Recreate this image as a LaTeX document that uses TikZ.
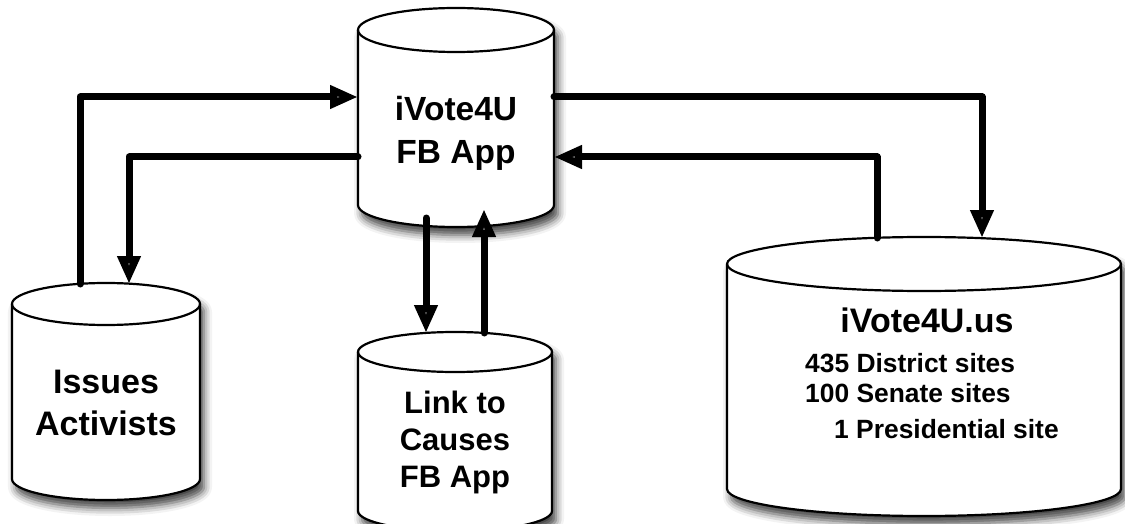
\documentclass[tikz,border=0pt]{standalone}
\usepackage{fontspec}
\setmainfont{Liberation Sans}
\usetikzlibrary{arrows.meta,shadows.blur}

\begin{document}
\begin{tikzpicture}[x=1pt,y=-1pt,
  flow/.style={line width=7pt,line cap=round,line join=round,-{Triangle[length=28pt,width=22pt]}},
  cyl/.style={draw,line width=2.2pt,fill=white,blur shadow={shadow xshift=4pt,shadow yshift=-8pt,shadow blur radius=8pt,shadow opacity=75}},
  body/.style={inner sep=0pt,outer sep=0pt},
  lbl/.style={align=center,inner sep=0pt}]
  \useasboundingbox (0,0) rectangle (1125,524);

  % cylinders: name/centre x/top y/bottom y/x radius/y radius
  \foreach \nm/\cx/\ty/\by/\rx/\ry in {app/456/30/205/98/22, iss/106/304/479/94/21, lnk/455/352/511/97/20, web/924/264/489/197/27} {
    \draw[cyl] (\cx-\rx,\ty) -- (\cx-\rx,\by)
      arc[start angle=180,end angle=360,x radius=\rx*1pt,y radius=\ry*1pt]
      -- (\cx+\rx,\ty)
      arc[start angle=0,end angle=180,x radius=\rx*1pt,y radius=\ry*1pt] -- cycle;
    \draw[line width=2.2pt] (\cx-\rx,\ty) arc[start angle=180,end angle=360,x radius=\rx*1pt,y radius=\ry*1pt];
    \node[body,minimum width={2*\rx*1pt},minimum height={(\by-\ty)*1pt}] (\nm) at (\cx,{(\ty+\by)/2}) {};
  }

  % labels
  \node[lbl,font=\bfseries\fontsize{33.5}{43}\selectfont] (app-txt) at (456,133) {iVote4U\\FB App};
  \node[lbl,font=\bfseries\fontsize{34}{42}\selectfont] (iss-txt) at (106,403) {Issues\\Activists};
  \node[lbl,font=\bfseries\fontsize{31}{37}\selectfont] (lnk-txt) at (455,442) {Link to\\Causes\\FB App};
  \node[lbl,anchor=base,font=\bfseries\fontsize{34}{40}\selectfont] (web-txt) at (927,332) {iVote4U.us};
  \node[lbl,anchor=base west,font=\bfseries\fontsize{26.4}{32}\selectfont] (web-dist) at (805,372) {435 District sites};
  \node[lbl,anchor=base west,font=\bfseries\fontsize{26.4}{32}\selectfont] (web-sen) at (805,402) {100 Senate sites};
  \node[lbl,anchor=base west,font=\bfseries\fontsize{26.4}{32}\selectfont] (web-pres) at (834,438) {1 Presidential site};

  % ports
  \coordinate (app-w1) at ([yshift=20.5pt]app.west);
  \coordinate (app-w2) at ([yshift=-39.5pt]app.west);
  \coordinate (app-e1) at ([yshift=20.5pt]app.east);
  \coordinate (app-e2) at ([yshift=-39.5pt]app.east);
  \coordinate (app-s1) at ([xshift=-30pt,yshift=-13pt]app.south);
  \coordinate (app-s2) at ([xshift=28pt,yshift=-4pt]app.south);
  \coordinate (iss-n1) at ([xshift=-26pt,yshift=20pt]iss.north);
  \coordinate (iss-n2) at ([xshift=23pt,yshift=20pt]iss.north);
  \coordinate (lnk-n1) at ([xshift=-29pt,yshift=19pt]lnk.north);
  \coordinate (lnk-n2) at ([xshift=29pt,yshift=19pt]lnk.north);
  \coordinate (web-n1) at ([xshift=-47pt,yshift=26pt]web.north);
  \coordinate (web-n2) at ([xshift=58pt,yshift=26pt]web.north);

  % connectors
  \draw[flow] (iss-n1) |- (app-w1);
  \draw[flow] (app-w2) -| (iss-n2);
  \draw[flow] (app-e1) -| (web-n2);
  \draw[flow] (web-n1) |- (app-e2);
  \draw[flow] (app-s1) -- (lnk-n1);
  \draw[flow] (lnk-n2) -- (app-s2);
\end{tikzpicture}
\end{document}
